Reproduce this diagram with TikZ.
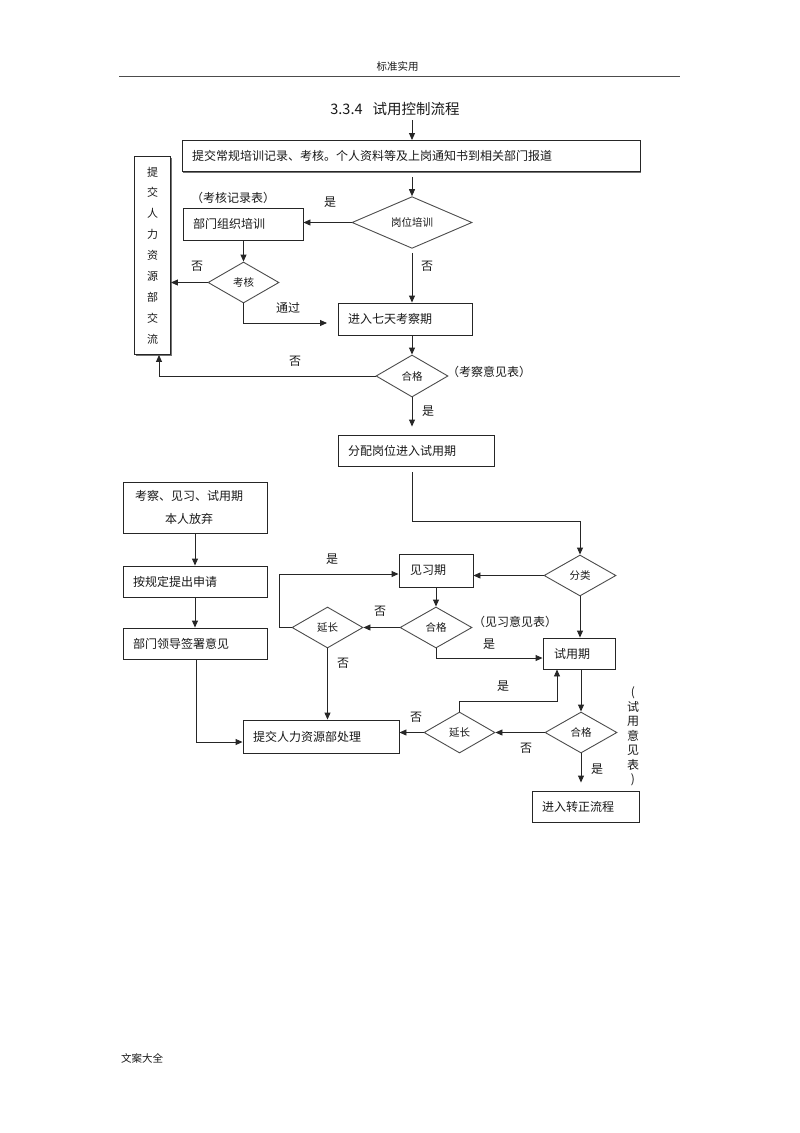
\documentclass[tikz,border=0pt]{standalone}
\usepackage{fontspec}
\setmainfont{Noto Sans CJK SC}
\usetikzlibrary{shapes.geometric,arrows.meta,shadows}
\newcommand{\myfs}[1]{\fontsize{#1}{#1}\selectfont}
\begin{document}
\begin{tikzpicture}[x=1pt,y=-1pt,
  every node/.style={inner sep=0pt, text=black!90},
  box/.style={draw=black!85, line width=0.9pt, fill=white, inner xsep=10pt, inner ysep=0pt, align=left, font=\myfs{12},
    general shadow={fill=black!55, shadow xshift=1.2pt, shadow yshift=-1.2pt}},
  dia/.style={draw=black!70, line width=0.9pt, shape=diamond, fill=white, inner sep=0pt, font=\myfs{10.5}, minimum width=72pt, minimum height=41pt},
  lbl/.style={font=\myfs{12}},
  arr/.style={draw=black!85, line width=0.9pt, -{Triangle[length=7pt,width=6pt]}},
  ln/.style={draw=black!85, line width=0.9pt}
]
\useasboundingbox (0,0) rectangle (800,1133);

% header / footer
\node[font=\myfs{10.5}] (hdr) at (397.5,66) {标准实用};
\coordinate (hl1) at (119,76);
\coordinate (hl2) at (680,76);
\draw[draw=black!70, line width=0.9pt] (hl1) -- (hl2);
\node[font=\myfs{10.5}, anchor=west] (ftr) at (121,1058) {文案大全};
\node[font=\myfs{14.5}] (title) at (395,109) {3.3.4\hspace{10pt}试用控制流程};

% boxes
\node[box, minimum width=458pt, minimum height=31pt, text width=438pt] (b1) at (411,156) {提交常规培训记录、考核。个人资料等及上岗通知书到相关部门报道};
\node[box, minimum width=36pt, minimum height=198pt, inner xsep=0pt, align=center, font={\fontsize{11}{20.9}\selectfont}] (hr1) at (152.5,255.5) {提\\交\\人\\力\\资\\源\\部\\交\\流};
\node[box, minimum width=120pt, minimum height=32pt, text width=100pt] (zuzhi) at (243,224) {部门组织培训};
\node[box, minimum width=134pt, minimum height=32pt, text width=114pt] (qitian) at (405,319) {进入七天考察期};
\node[box, minimum width=156pt, minimum height=31pt, text width=136pt] (fenpei) at (416,450.5) {分配岗位进入试用期};
\node[box, minimum width=144pt, minimum height=51pt, align=center, font={\fontsize{12}{23}\selectfont}] (fangqi) at (195,507.5) {考察、见习、试用期\hspace*{12pt}\\本人放弃\hspace*{12pt}};
\node[box, minimum width=144pt, minimum height=31pt, text width=124pt] (shenqing) at (195,581.5) {按规定提出申请};
\node[box, minimum width=144pt, minimum height=31pt, text width=124pt] (qianshu) at (195,643.5) {部门领导签署意见};
\node[box, minimum width=74pt, minimum height=33pt, text width=52pt, inner xsep=11pt] (jianxi) at (436,570.5) {见习期};
\node[box, minimum width=72pt, minimum height=31pt, text width=50pt, inner xsep=11pt] (shiyong) at (579,653.5) {试用期};
\node[box, minimum width=156pt, minimum height=33pt, text width=136pt] (tijiao) at (321,736.5) {提交人力资源部处理};
\node[box, minimum width=107pt, minimum height=31pt, text width=87pt] (zhuanzheng) at (585.5,806.5) {进入转正流程};

% diamonds
\node[dia, minimum width=120pt, minimum height=47pt] (gangwei) at (412,222.5) {岗位培训};
\node[dia, minimum width=71pt] (kaohe) at (243.5,282.5) {考核};
\node[dia, minimum height=42pt] (hege1) at (412,376) {合格};
\node[dia] (fenlei) at (580,575.5) {分类};
\node[dia] (hege2) at (436,627.5) {合格};
\node[dia, minimum width=71pt] (yanchang1) at (327.5,627.5) {延长};
\node[dia] (hege3) at (581,732.5) {合格};
\node[dia, minimum width=71pt] (yanchang2) at (459.5,732.5) {延长};

% labels
\node[lbl] (kaohejilu) at (233,198) {（考核记录表）};
\node[lbl] (shi1) at (330,202) {是};
\node[lbl] (fou1) at (197,266) {否};
\node[lbl] (fou2) at (427,266) {否};
\node[lbl] (tongguo) at (288,308) {通过};
\node[lbl] (fou3) at (295,361) {否};
\node[lbl] (kaochayj) at (489,372) {（考察意见表）};
\node[lbl] (shi2) at (428,411) {是};
\node[lbl] (shi3) at (332,559) {是};
\node[lbl] (fou4) at (380,611) {否};
\node[lbl] (jianxiyj) at (515,622) {（见习意见表）};
\node[lbl] (shi4) at (489,644) {是};
\node[lbl] (fou5) at (343,663) {否};
\node[lbl] (shi5) at (503,686) {是};
\node[lbl] (fou6) at (416,717) {否};
\node[lbl] (fou7) at (526,748) {否};
\node[lbl] (shi6) at (597,769) {是};
\node[align=center, font={\fontsize{12}{14.5}\selectfont}] (shiyongyj) at (633,736.5) {(\\试\\用\\意\\见\\表\\)};

% connector helper coordinates
\coordinate (t0) at (412,120);
\coordinate (tg) at (327,323);
\coordinate (c1) at (412,521);
\coordinate (c2) at (279,574);
\coordinate (c3) at (436,658);
\coordinate (c4) at (196,742);
\coordinate (c5) at (557,701);

% connectors
\draw[arr] (t0) -- (t0 |- b1.north);
\draw[arr, shorten <=5pt] (gangwei.north |- b1.south) -- (gangwei.north);
\draw[arr] (gangwei.west) -- (gangwei.west -| zuzhi.east);
\draw[arr] (zuzhi.south -| kaohe.north) -- (kaohe.north);
\draw[arr] (kaohe.west) -- (kaohe.west -| hr1.east);
\draw[arr] (kaohe.south) |- (tg);
\draw[arr, shorten <=4pt] (gangwei.south) -- (gangwei.south |- qitian.north);
\draw[arr] (hege1.north |- qitian.south) -- (hege1.north);
\draw[arr] (hege1.west) -| ([xshift=6.5pt]hr1.south);
\draw[arr, shorten >=8pt] (hege1.south) -- (hege1.south |- fenpei.north);
\draw[arr, shorten <=6pt] (c1 |- fenpei.south) -- (c1) -| (fenlei.north);
\draw[arr] (fenlei.west) -- (fenlei.west -| jianxi.east);
\draw[arr] (fenlei.south) -- (fenlei.south |- shiyong.north);
\draw[arr] (jianxi.south) -- (hege2.north);
\draw[arr] (hege2.west) -- (yanchang1.east);
\draw[arr] (yanchang1.west) -| (c2) -- (c2 -| jianxi.west);
\draw[arr] (hege2.south) |- (c3 -| shiyong.west);
\draw[arr] (yanchang1.south) -- (yanchang1.south |- tijiao.north);
\draw[arr] (fangqi.south) -- (shenqing.north);
\draw[arr] (shenqing.south) -- (qianshu.north);
\draw[arr] (qianshu.south -| c4) |- (c4 -| tijiao.west);
\draw[arr] (shiyong.south -| hege3.north) -- (hege3.north);
\draw[arr] (hege3.west) -- (yanchang2.east);
\draw[arr] (yanchang2.north) |- (c5) -- (c5 |- shiyong.south);
\draw[arr] (yanchang2.west) -- (yanchang2.west -| tijiao.east);
\draw[arr, shorten >=8pt] (hege3.south) -- (hege3.south |- zhuanzheng.north);
\end{tikzpicture}
\end{document}
